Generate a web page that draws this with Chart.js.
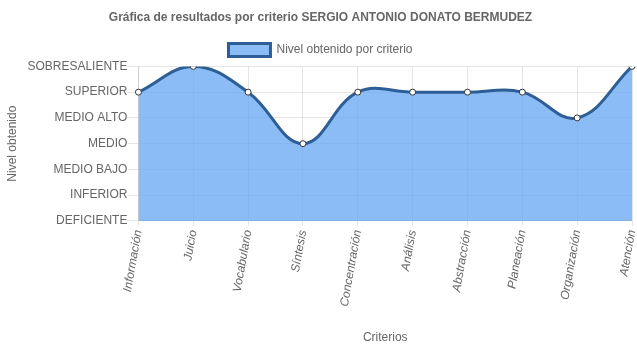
<!DOCTYPE html>
<html lang="es">
<head>
<meta charset="utf-8">
<title>Resultados por criterio</title>
<script src="https://cdn.jsdelivr.net/npm/chart.js@4/dist/chart.umd.min.js"></script>
<style>
  html, body { margin: 0; padding: 0; background: #fff; }
  #wrap { width: 637px; height: 348px; position: relative; }
</style>
</head>
<body>
<div id="wrap"><canvas id="chart"></canvas></div>
<script>
// Criteria evaluated (x axis)
const criterios = [
  'Información', 'Juicio', 'Vocabulario', 'Síntesis', 'Concentración',
  'Análisis', 'Abstracción', 'Planeación', 'Organización', 'Atención'
];

// Level names, index = numeric level
const niveles = [
  'DEFICIENTE', 'INFERIOR', 'MEDIO BAJO', 'MEDIO',
  'MEDIO ALTO', 'SUPERIOR', 'SOBRESALIENTE'
];

// Level reached in each criterion
const resultados = [5, 6, 5, 3, 5, 5, 5, 5, 4, 6];

const fontFamily = '"Liberation Sans", Arial, sans-serif';
Chart.defaults.font.family = fontFamily;
Chart.defaults.font.size = 12;
Chart.defaults.color = '#666';

const ctx = document.getElementById('chart').getContext('2d');

new Chart(ctx, {
  type: 'line',
  data: {
    labels: criterios,
    datasets: [{
      label: 'Nivel obtenido por criterio',
      data: resultados,
      backgroundColor: 'rgba(100, 165, 242, 0.75)',
      borderColor: '#2e5e96',
      borderWidth: 3,
      fill: true,
      tension: 0.4,
      pointRadius: 3,
      pointBorderWidth: 1,
      pointBackgroundColor: '#fff',
      pointBorderColor: '#333'
    }]
  },
  options: {
    responsive: true,
    maintainAspectRatio: false,
    animation: false,
    layout: {
      padding: { left: 5, right: 1, top: 0, bottom: 3 }
    },
    plugins: {
      title: {
        display: true,
        text: 'Gráfica de resultados por criterio SERGIO ANTONIO DONATO BERMUDEZ',
        font: { size: 12, weight: 'bold' },
        padding: { top: 10, bottom: 11 }
      },
      legend: {
        labels: {
          boxWidth: 42,
          boxHeight: 13,
          padding: 8
        }
      },
      tooltip: { enabled: false }
    },
    scales: {
      x: {
        offset: false,
        grid: {
          color: 'rgba(0, 0, 0, 0.1)',
          tickLength: 5
        },
        ticks: {
          minRotation: 80,
          maxRotation: 80,
          autoSkip: false,
          font: { style: 'italic' }
        },
        title: {
          display: true,
          text: 'Criterios',
          padding: { top: 20, bottom: 0 }
        },
        // keep the last point close to the right edge
        afterFit: (scale) => {
          scale.paddingRight = 2;
        }
      },
      y: {
        min: 0,
        max: 6,
        grid: {
          color: 'rgba(0, 0, 0, 0.1)',
          tickLength: 11
        },
        ticks: {
          stepSize: 1,
          padding: 0,
          callback: (v) => niveles[v]
        },
        title: {
          display: true,
          text: 'Nivel obtenido',
          padding: { top: 0, bottom: 8 }
        }
      }
    }
  }
});
</script>
</body>
</html>
